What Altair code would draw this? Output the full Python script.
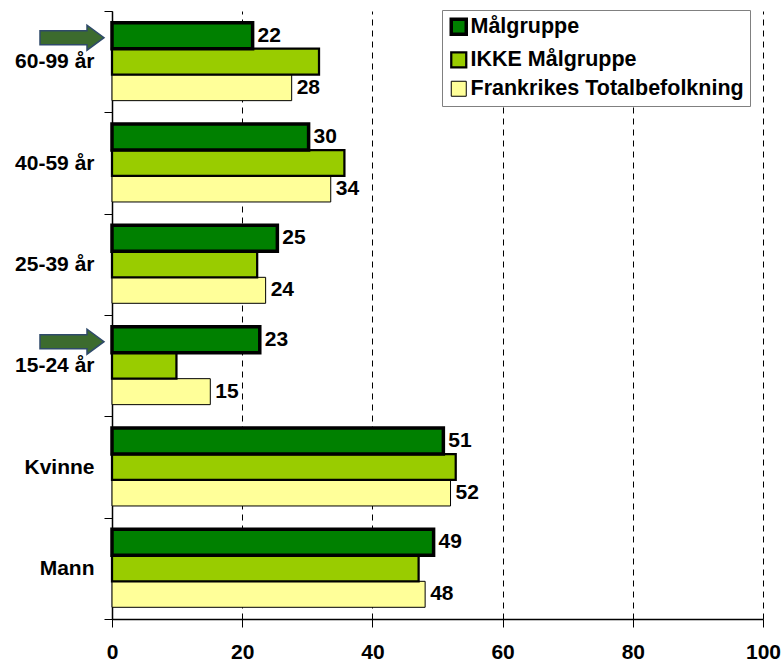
import altair as alt
import pandas as pd

categories = ["60-99 år", "40-59 år", "25-39 år", "15-24 år", "Kvinne", "Mann"]
series_names = ["Målgruppe", "IKKE Målgruppe", "Frankrikes Totalbefolkning"]
malgruppe = [21.6, 30.2, 25.4, 22.7, 50.9, 49.4]
ikke_malgruppe = [31.8, 35.7, 22.3, 9.9, 52.8, 47.1]
frankrike = [27.6, 33.6, 23.6, 15.1, 52.0, 48.1]
labelled_series = ["Målgruppe", "Frankrikes Totalbefolkning"]
arrow_categories = ["60-99 år", "15-24 år"]
x_ticks = [0, 20, 40, 60, 80, 100]

colors = ["#008000", "#99CC00", "#FFFF99"]
FONT = "Liberation Sans"

rows = []
# draw order: Målgruppe last so its thick border stays on top
for name, vals in [("Frankrikes Totalbefolkning", frankrike),
                   ("IKKE Målgruppe", ikke_malgruppe),
                   ("Målgruppe", malgruppe)]:
    for c, v in zip(categories, vals):
        rows.append({"category": c, "series": name, "value": v})
df = pd.DataFrame(rows)
df_text = df[df["series"].isin(labelled_series)]
df_arrow = pd.DataFrame({"category": arrow_categories,
                         "series": ["Målgruppe"] * len(arrow_categories)})

y_enc = alt.Y("category:N",
              scale=alt.Scale(domain=categories, paddingInner=0, paddingOuter=0),
              axis=alt.Axis(title=None, tickBand="extent", tickSize=8, tickColor="black",
                            domainColor="black", domainWidth=1.5, labelPadding=10,
                            labelFont=FONT, labelFontSize=21, labelFontWeight="bold",
                            labelColor="black", grid=False))
yoff_enc = alt.YOffset("series:N", scale=alt.Scale(domain=series_names, paddingInner=0,
                                                   paddingOuter=0.45))
x_enc = alt.X("value:Q",
              scale=alt.Scale(domain=[0, 100], nice=False),
              axis=alt.Axis(title=None, values=x_ticks, tickSize=8, tickColor="black",
                            domainColor="black", domainWidth=1.5, labelPadding=14,
                            labelFlush=False,
                            labelFont=FONT, labelFontSize=21, labelFontWeight="bold",
                            labelColor="black", grid=True, gridColor="black",
                            gridDash=[6, 5], gridWidth=1))

legend = alt.Legend(title=None, labelLimit=500)

bars = alt.Chart(df).mark_bar().encode(
    x=x_enc,
    y=y_enc,
    yOffset=yoff_enc,
    color=alt.Color("series:N", scale=alt.Scale(domain=series_names, range=colors),
                    legend=legend),
    stroke=alt.Stroke("series:N",
                      scale=alt.Scale(domain=series_names, range=["black", "black", "black"]),
                      legend=legend),
    strokeWidth=alt.StrokeWidth("series:N",
                                scale=alt.Scale(domain=series_names, range=[3.5, 1, 1]),
                                legend=legend),
)

texts = alt.Chart(df_text).mark_text(
    align="left", baseline="middle", dx=5, font=FONT, fontSize=21,
    fontWeight="bold", color="black"
).encode(
    x="value:Q",
    y=alt.Y("category:N"),
    yOffset=alt.YOffset("series:N"),
    text=alt.Text("value:Q", format=".0f"),
)

arrow_path = "M -72 -5 L -25 -5 L -25 -10.5 L -8 2 L -25 14.5 L -25 9 L -72 9 Z"
arrows = alt.Chart(df_arrow).mark_point(
    shape=arrow_path, size=4, filled=True, fill="#3c6b2e", stroke="#2f4a6a",
    strokeWidth=1.5, opacity=1
).encode(
    x=alt.datum(0),
    y=alt.Y("category:N"),
    yOffset=alt.YOffset("series:N"),
)

chart = alt.layer(bars, texts, arrows).properties(
    width=651, height=608,
    autosize=alt.AutoSizeParams(type="none"),
    padding={"left": 112, "top": 11, "right": 18, "bottom": 42},
    background="white",
).configure_view(stroke=None).configure_legend(
    orient="none", legendX=330, legendY=-1,
    labelFont='"Liberation Sans", Arial, sans-serif', labelFontSize=21.5,
    labelFontWeight="bold", labelColor="black",
    symbolType="square", symbolSize=225,
    padding=6, strokeColor="#808080", fillColor="white", rowPadding=5, labelOffset=1,
)

chart.save("out.html", embed_options={"renderer": "svg", "actions": False})
